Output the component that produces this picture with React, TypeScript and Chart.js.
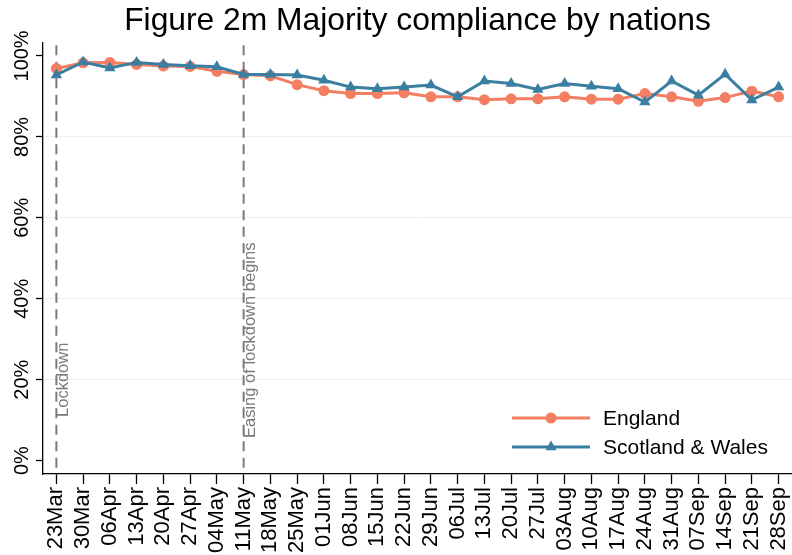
import React, { useEffect, useRef } from 'react';
import { Chart, registerables } from 'chart.js';

Chart.register(...registerables);

// ---------- data ----------
const weeks = [
  '23Mar', '30Mar', '06Apr', '13Apr', '20Apr', '27Apr', '04May', '11May', '18May', '25May',
  '01Jun', '08Jun', '15Jun', '22Jun', '29Jun', '06Jul', '13Jul', '20Jul', '27Jul', '03Aug',
  '10Aug', '17Aug', '24Aug', '31Aug', '07Sep', '14Sep', '21Sep', '28Sep',
];
const england = [
  96.9, 98.3, 98.4, 97.9, 97.5, 97.4, 96.2, 95.4, 95.1, 92.9,
  91.4, 90.7, 90.7, 90.9, 89.9, 89.9, 89.2, 89.4, 89.4, 89.9,
  89.3, 89.3, 90.7, 89.9, 88.8, 89.7, 91.3, 89.9,
];
const scotlandWales = [
  95.3, 98.5, 97.0, 98.4, 97.9, 97.6, 97.3, 95.4, 95.4, 95.3,
  94.0, 92.3, 91.9, 92.3, 92.8, 89.9, 93.8, 93.2, 91.7, 93.2,
  92.5, 91.9, 88.6, 93.8, 90.3, 95.5, 89.1, 92.3,
];
const seriesNames = ['England', 'Scotland & Wales'];
const yTickValues = [0, 20, 40, 60, 80, 100];
const eventWeeks = ['23Mar', '11May'];
const eventTexts = ['Lockdown', 'Easing of lockdown begins'];
const eventTextBase = [10.8, 5.6];
const titleText = 'Figure 2m Majority compliance by nations';

// ---------- styles ----------
const FONT = '"Liberation Sans", Arial, Helvetica, sans-serif';
const C_ENG = '#F47E62';
const C_SW = '#3A7EA1';
const GRID = '#E6EFF1';
const EVENT_GREY = '#7A7A7A';

function drawMarker(ctx: CanvasRenderingContext2D, style: string, x: number, y: number, r: number) {
  ctx.beginPath();
  if (style === 'circle') {
    ctx.arc(x, y, r, 0, Math.PI * 2);
  } else {
    let rad = 0;
    ctx.moveTo(x + Math.sin(rad) * r, y - Math.cos(rad) * r);
    rad += (2 * Math.PI) / 3;
    ctx.lineTo(x + Math.sin(rad) * r, y - Math.cos(rad) * r);
    rad += (2 * Math.PI) / 3;
    ctx.lineTo(x + Math.sin(rad) * r, y - Math.cos(rad) * r);
    ctx.closePath();
  }
  ctx.fill();
}

const eventsPlugin = {
  id: 'eventLines',
  beforeDatasetsDraw(chart: any) {
    const { ctx, chartArea } = chart;
    const xs = chart.scales.x;
    const ys = chart.scales.y;
    eventWeeks.forEach((w, i) => {
      const px = xs.getPixelForValue(weeks.indexOf(w));
      ctx.save();
      ctx.strokeStyle = EVENT_GREY;
      ctx.lineWidth = 2;
      ctx.setLineDash([10, 6.5]);
      ctx.lineDashOffset = -3;
      ctx.beginPath();
      ctx.moveTo(px, chartArea.top);
      ctx.lineTo(px, chartArea.bottom);
      ctx.stroke();
      ctx.restore();

      ctx.save();
      ctx.translate(px + 7, ys.getPixelForValue(eventTextBase[i]));
      ctx.rotate(-Math.PI / 2);
      ctx.font = `16.5px ${FONT}`;
      ctx.fillStyle = EVENT_GREY;
      ctx.textAlign = 'left';
      ctx.textBaseline = 'middle';
      ctx.fillText(eventTexts[i], 0, 0);
      ctx.restore();
    });
  },
};

const yLabelsPlugin = {
  id: 'yLabels',
  afterDraw(chart: any) {
    const { ctx } = chart;
    const ys = chart.scales.y;
    ctx.save();
    ctx.font = `20px ${FONT}`;
    ctx.fillStyle = '#000';
    ctx.textAlign = 'center';
    ctx.textBaseline = 'middle';
    yTickValues.forEach((v) => {
      const py = ys.getPixelForValue(v);
      ctx.save();
      ctx.translate(ys.right - 21, py);
      ctx.rotate(-Math.PI / 2);
      ctx.fillText(`${v}%`, 0, 0);
      ctx.restore();
    });
    ctx.restore();
  },
};

const legendPlugin = {
  id: 'customLegend',
  afterDraw(chart: any) {
    const { ctx, chartArea } = chart;
    const colors = [C_ENG, C_SW];
    const styles = ['circle', 'triangle'];
    const radii = [5.5, 6.5];
    const rowY = [chartArea.bottom - 56, chartArea.bottom - 27];
    const x0 = chartArea.right - 280;
    const x1 = chartArea.right - 202;
    const tx = chartArea.right - 189;
    seriesNames.forEach((name, i) => {
      ctx.save();
      ctx.strokeStyle = colors[i];
      ctx.fillStyle = colors[i];
      ctx.lineWidth = 3;
      ctx.beginPath();
      ctx.moveTo(x0, rowY[i]);
      ctx.lineTo(x1, rowY[i]);
      ctx.stroke();
      drawMarker(ctx, styles[i], (x0 + x1) / 2, rowY[i], radii[i]);
      ctx.font = `21px ${FONT}`;
      ctx.fillStyle = '#000';
      ctx.textAlign = 'left';
      ctx.textBaseline = 'middle';
      ctx.fillText(name, tx, rowY[i] + 1);
      ctx.restore();
    });
  },
};

export default function App() {
  const canvasRef = useRef<HTMLCanvasElement | null>(null);

  useEffect(() => {
    if (!canvasRef.current) return;
    Chart.defaults.font.family = FONT;
    const chart = new Chart(canvasRef.current, {
      type: 'line',
      data: {
        labels: weeks,
        datasets: [
          {
            label: seriesNames[0],
            data: england,
            borderColor: C_ENG,
            backgroundColor: C_ENG,
            pointBackgroundColor: C_ENG,
            pointBorderColor: C_ENG,
            pointBorderWidth: 0,
            pointStyle: 'circle',
            pointRadius: 5.5,
            borderWidth: 3,
            tension: 0,
            order: 2,
            clip: false,
          },
          {
            label: seriesNames[1],
            data: scotlandWales,
            borderColor: C_SW,
            backgroundColor: C_SW,
            pointBackgroundColor: C_SW,
            pointBorderColor: C_SW,
            pointBorderWidth: 0,
            pointStyle: 'triangle',
            pointRadius: 6.5,
            borderWidth: 3,
            tension: 0,
            order: 1,
            clip: false,
          },
        ],
      },
      options: {
        responsive: false,
        animation: false,
        events: [],
        layout: { autoPadding: false, padding: { left: 0, right: 0, top: 0, bottom: 0 } },
        plugins: {
          legend: { display: false },
          tooltip: { enabled: false },
          title: {
            display: true,
            text: titleText,
            fullSize: false,
            color: '#000',
            font: { size: 31.8, weight: 'normal', family: FONT, lineHeight: 1.2 },
            padding: { top: 2.5, bottom: 1.5 },
          },
        },
        scales: {
          x: {
            type: 'category',
            offset: true,
            afterFit: (s: any) => {
              s.paddingLeft = 0;
              s.paddingRight = 0;
              s.height = 81;
            },
            grid: {
              drawOnChartArea: false,
              drawTicks: true,
              tickLength: 10,
              tickColor: '#000',
              tickWidth: 1.3,
            },
            border: { color: '#000', width: 1.3 },
            ticks: {
              autoSkip: false,
              minRotation: 90,
              maxRotation: 90,
              color: '#000',
              padding: 3,
              font: { size: 22, family: FONT },
            },
          },
          y: {
            min: -3.3,
            max: 103.4,
            afterBuildTicks: (s: any) => {
              s.ticks = yTickValues.map((v) => ({ value: v }));
            },
            afterFit: (s: any) => {
              s.width = 43;
            },
            ticks: { display: false },
            grid: {
              color: (c: any) =>
                c.tick && (c.tick.value === 0 || c.tick.value === 100) ? 'rgba(0,0,0,0)' : GRID,
              lineWidth: 1,
              drawTicks: true,
              tickLength: 7,
              tickColor: '#000',
              tickWidth: 1.3,
            },
            border: { color: '#000', width: 1.3 },
          },
        },
      },
      plugins: [eventsPlugin, yLabelsPlugin, legendPlugin],
    });
    return () => chart.destroy();
  }, []);

  return (
    <div style={{ position: 'fixed', left: 0, top: 0, width: 792, height: 555, background: '#fff' }}>
      <canvas ref={canvasRef} width={792} height={555} style={{ display: 'block' }} />
    </div>
  );
}
